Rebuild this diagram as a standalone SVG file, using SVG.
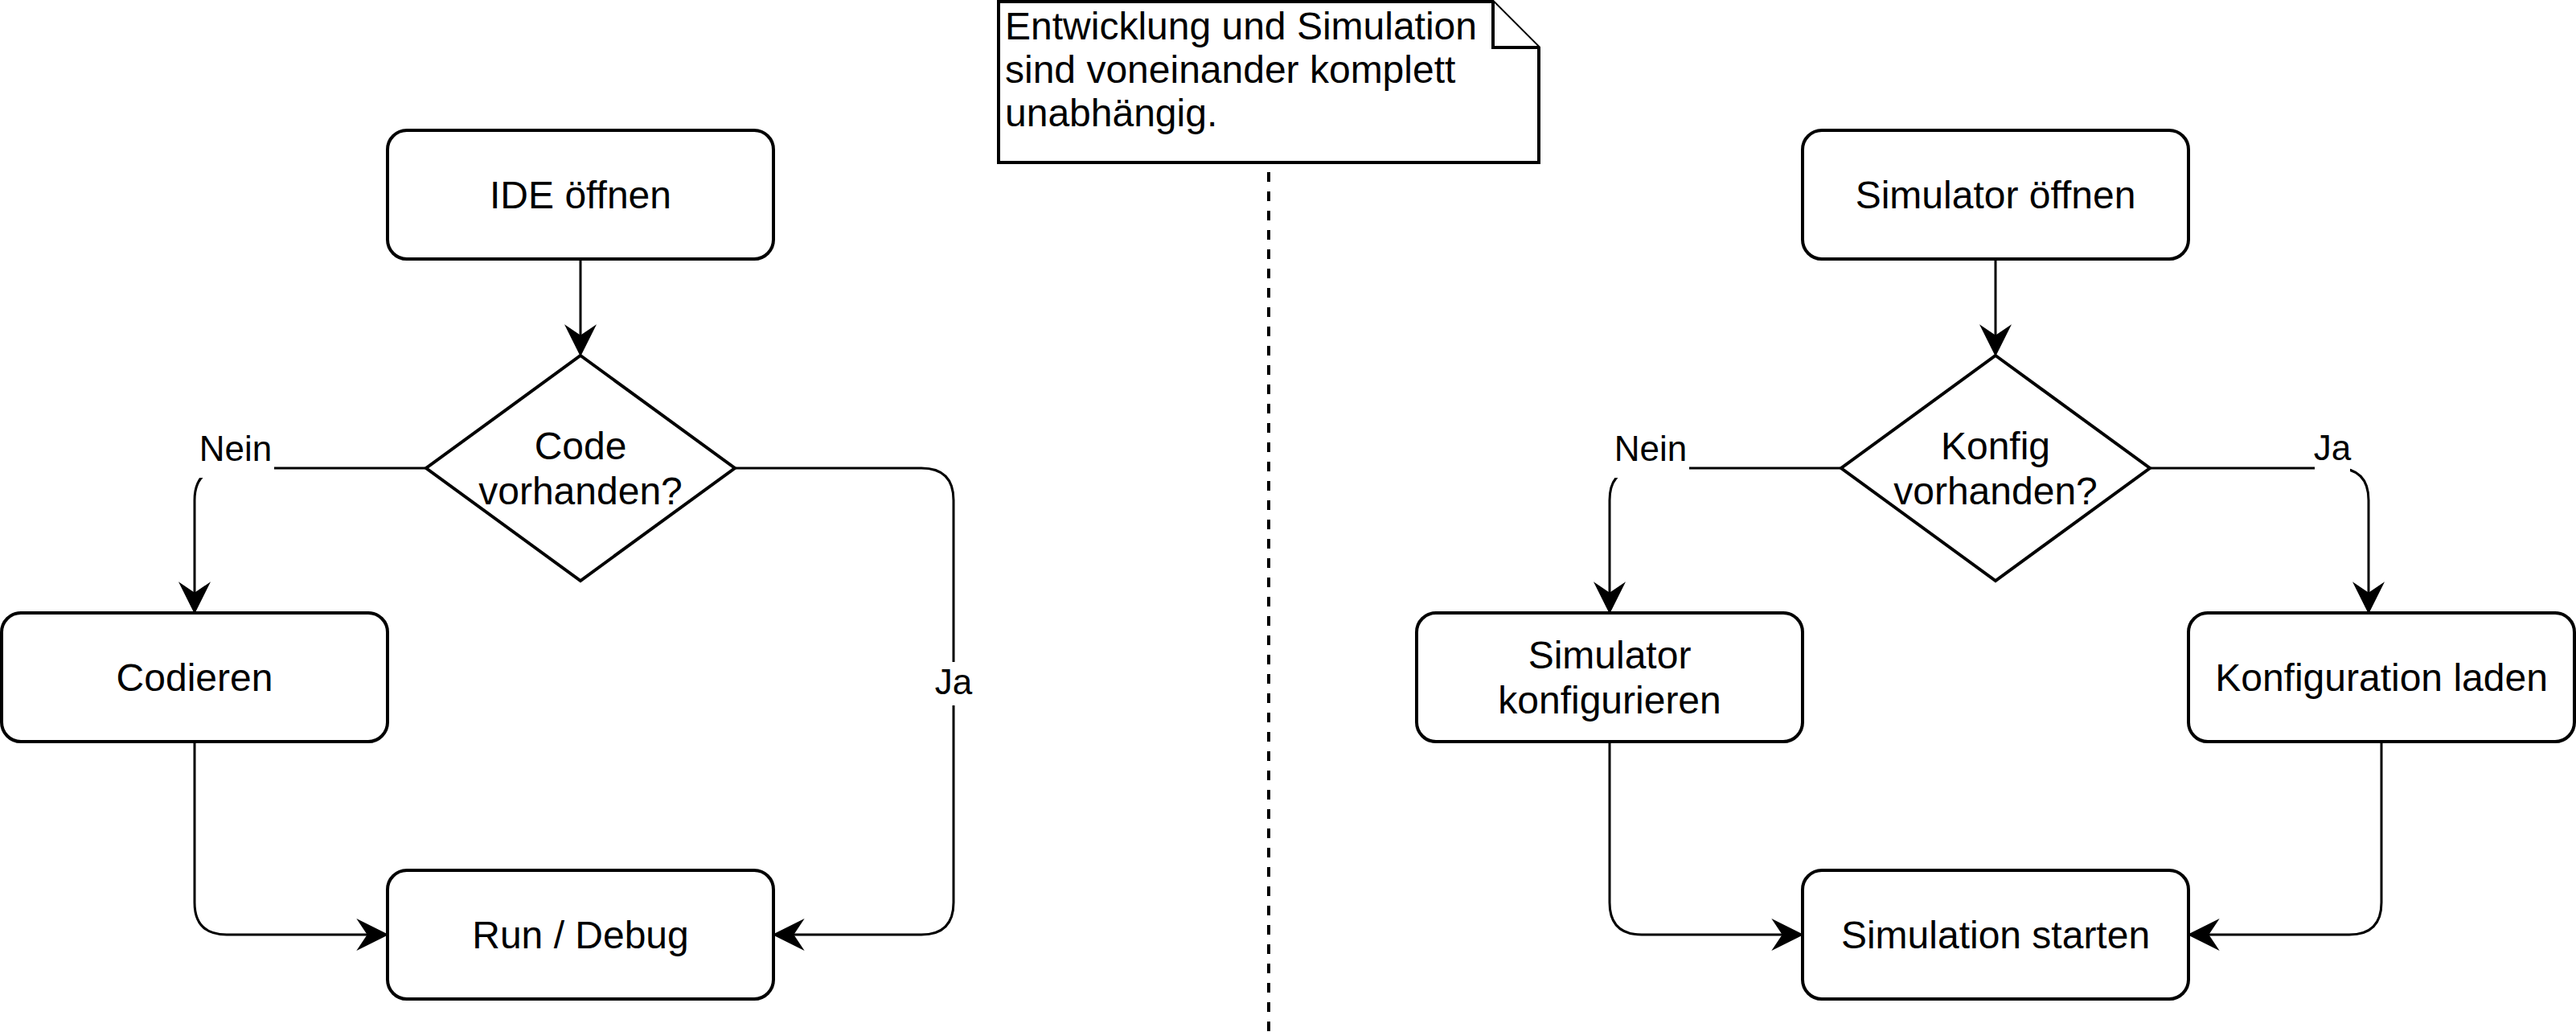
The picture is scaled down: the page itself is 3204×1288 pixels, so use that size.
<svg xmlns="http://www.w3.org/2000/svg" width="3204" height="1288" viewBox="0 0 3204 1288">
  <defs>
    <style>
      .shape { fill: #ffffff; stroke: #000000; stroke-width: 4; }
      .edge { fill: none; stroke: #000000; stroke-width: 3; }
      .dash { fill: none; stroke: #000000; stroke-width: 4; stroke-dasharray: 12 12; }
      .txt { font-family: "Liberation Sans", Arial, Helvetica, sans-serif; font-size: 48px; fill: #000000; text-anchor: middle; }
      .note-txt { font-family: "Liberation Sans", Arial, Helvetica, sans-serif; font-size: 48px; fill: #000000; text-anchor: start; }
      .lbl { font-family: "Liberation Sans", Arial, Helvetica, sans-serif; font-size: 44px; fill: #000000; text-anchor: middle; }
      .lbl-bg { fill: #ffffff; stroke: none; }
    </style>
    <marker id="arrow" markerUnits="userSpaceOnUse" markerWidth="40" markerHeight="40" viewBox="0 0 36 36" refX="24" refY="18" orient="auto">
      <path d="M0,0 L36,18 L0,36 L12,18 Z" fill="#000000" stroke="none"/>
    </marker>
  </defs>
  <rect x="0" y="0" width="3204" height="1288" fill="#ffffff"/>

  <g id="connectors">
    <path class="edge" d="M722,322 V430" marker-end="url(#arrow)"/>
    <path class="edge" d="M530,582 H282 Q242,582 242,622 V750" marker-end="url(#arrow)"/>
    <path class="edge" d="M914,582 H1146 Q1186,582 1186,622 V1122 Q1186,1162 1146,1162 H974" marker-end="url(#arrow)"/>
    <path class="edge" d="M242,922 V1122 Q242,1162 282,1162 H470" marker-end="url(#arrow)"/>
    <path class="edge" d="M2482,322 V430" marker-end="url(#arrow)"/>
    <path class="edge" d="M2290,582 H2042 Q2002,582 2002,622 V750" marker-end="url(#arrow)"/>
    <path class="edge" d="M2674,582 H2906 Q2946,582 2946,622 V750" marker-end="url(#arrow)"/>
    <path class="edge" d="M2002,922 V1122 Q2002,1162 2042,1162 H2230" marker-end="url(#arrow)"/>
    <path class="edge" d="M2962,922 V1122 Q2962,1162 2922,1162 H2734" marker-end="url(#arrow)"/>
    <path class="dash" d="M1578,214 V1288"/>

    <g id="label-nein-left">
      <rect class="lbl-bg" x="238" y="528" width="103" height="66"/>
      <text class="lbl" x="293" y="573">Nein</text>
    </g>
    <g id="label-ja-left">
      <rect class="lbl-bg" x="1162" y="823" width="48" height="54"/>
      <text class="lbl" x="1186" y="863">Ja</text>
    </g>
    <g id="label-nein-right">
      <rect class="lbl-bg" x="1998" y="528" width="103" height="66"/>
      <text class="lbl" x="2053" y="573">Nein</text>
    </g>
    <g id="label-ja-right">
      <rect class="lbl-bg" x="2879" y="528" width="44" height="58"/>
      <text class="lbl" x="2901" y="572">Ja</text>
    </g>
  </g>

  <g id="ide-oeffnen">
    <rect class="shape" x="482" y="162" width="480" height="160" rx="24" ry="24"/>
    <text class="txt" x="722" y="259">IDE öffnen</text>
  </g>
  <g id="code-vorhanden">
    <polygon class="shape" points="722,442 914,582 722,722 530,582"/>
    <text class="txt" x="722" y="571">Code</text>
    <text class="txt" x="722" y="627">vorhanden?</text>
  </g>
  <g id="codieren">
    <rect class="shape" x="2" y="762" width="480" height="160" rx="24" ry="24"/>
    <text class="txt" x="242" y="859">Codieren</text>
  </g>
  <g id="run-debug">
    <rect class="shape" x="482" y="1082" width="480" height="160" rx="24" ry="24"/>
    <text class="txt" x="722" y="1179">Run / Debug</text>
  </g>

  <g id="note">
    <path class="shape" d="M1242,2 H1857 L1914,59 V202 H1242 Z"/>
    <path class="shape" d="M1857,2 V59 H1914" fill="none"/>
    <text class="note-txt" x="1250" y="49">Entwicklung und Simulation</text>
    <text class="note-txt" x="1250" y="103">sind voneinander komplett</text>
    <text class="note-txt" x="1250" y="157">unabhängig.</text>
  </g>

  <g id="simulator-oeffnen">
    <rect class="shape" x="2242" y="162" width="480" height="160" rx="24" ry="24"/>
    <text class="txt" x="2482" y="259">Simulator öffnen</text>
  </g>
  <g id="konfig-vorhanden">
    <polygon class="shape" points="2482,442 2674,582 2482,722 2290,582"/>
    <text class="txt" x="2482" y="571">Konfig</text>
    <text class="txt" x="2482" y="627">vorhanden?</text>
  </g>
  <g id="simulator-konfigurieren">
    <rect class="shape" x="1762" y="762" width="480" height="160" rx="24" ry="24"/>
    <text class="txt" x="2002" y="831">Simulator</text>
    <text class="txt" x="2002" y="887">konfigurieren</text>
  </g>
  <g id="konfiguration-laden">
    <rect class="shape" x="2722" y="762" width="480" height="160" rx="24" ry="24"/>
    <text class="txt" x="2962" y="859">Konfiguration laden</text>
  </g>
  <g id="simulation-starten">
    <rect class="shape" x="2242" y="1082" width="480" height="160" rx="24" ry="24"/>
    <text class="txt" x="2482" y="1179">Simulation starten</text>
  </g>
</svg>
